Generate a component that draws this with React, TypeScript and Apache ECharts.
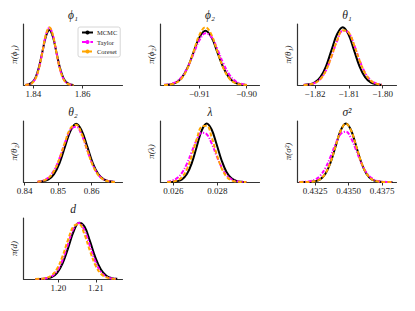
import React, { useEffect, useRef } from "react";
import * as echarts from "echarts";

// ---------- data (densities scaled to each panel's axis height) ----------
const seriesNames = ["MCMC", "Taylor", "Coreset"];

const phi1Grid = [1.8367, 1.8381, 1.8395, 1.8409, 1.8423, 1.8437, 1.8451, 1.8465, 1.8479, 1.8493, 1.8507, 1.8521, 1.8535, 1.8549, 1.8563];
const phi1Mcmc = [0.002, 0.01, 0.04, 0.122, 0.293, 0.547, 0.796, 0.902, 0.796, 0.547, 0.293, 0.122, 0.04, 0.01, 0.002];
const phi1Taylor = [0.002, 0.008, 0.033, 0.108, 0.278, 0.545, 0.82, 0.94, 0.82, 0.545, 0.278, 0.108, 0.033, 0.008, 0.002];
const phi1Coreset = [0.001, 0.007, 0.03, 0.105, 0.275, 0.546, 0.825, 0.946, 0.825, 0.546, 0.275, 0.105, 0.03, 0.007, 0.001];

const phi2Grid = [-0.91745, -0.9162, -0.91495, -0.9137, -0.91245, -0.9112, -0.90995, -0.9087, -0.90745, -0.9062, -0.90495, -0.9037, -0.90245, -0.9012, -0.89995];
const phi2Mcmc = [0.002, 0.01, 0.039, 0.12, 0.289, 0.54, 0.785, 0.89, 0.785, 0.54, 0.289, 0.12, 0.039, 0.01, 0.002];
const phi2Taylor = [0.003, 0.015, 0.049, 0.133, 0.292, 0.516, 0.736, 0.848, 0.788, 0.591, 0.358, 0.175, 0.069, 0.022, 0.006];
const phi2Coreset = [0.001, 0.008, 0.033, 0.11, 0.281, 0.551, 0.826, 0.946, 0.826, 0.551, 0.281, 0.11, 0.033, 0.008, 0.001];

const theta1Grid = [-1.82335, -1.8217, -1.82005, -1.8184, -1.81675, -1.8151, -1.81345, -1.8118, -1.81015, -1.8085, -1.80685, -1.8052, -1.80355, -1.8019, -1.80025];
const theta1Mcmc = [0.002, 0.011, 0.042, 0.128, 0.307, 0.577, 0.835, 0.946, 0.835, 0.577, 0.307, 0.128, 0.042, 0.011, 0.002];
const theta1Taylor = [0.003, 0.01, 0.034, 0.1, 0.24, 0.47, 0.725, 0.888, 0.865, 0.668, 0.41, 0.2, 0.08, 0.026, 0.007];
const theta1Coreset = [0.002, 0.008, 0.031, 0.097, 0.24, 0.472, 0.732, 0.896, 0.868, 0.664, 0.402, 0.192, 0.073, 0.022, 0.005];

const theta2Grid = [0.84385, 0.8455, 0.84715, 0.8488, 0.85045, 0.8521, 0.85375, 0.8554, 0.85705, 0.8587, 0.86035, 0.862, 0.86365, 0.8653, 0.86695];
const theta2Mcmc = [0.002, 0.011, 0.042, 0.129, 0.31, 0.583, 0.843, 0.956, 0.843, 0.583, 0.31, 0.129, 0.042, 0.011, 0.002];
const theta2Taylor = [0.006, 0.024, 0.075, 0.19, 0.39, 0.65, 0.86, 0.905, 0.77, 0.52, 0.28, 0.12, 0.042, 0.013, 0.004];
const theta2Coreset = [0.004, 0.019, 0.066, 0.18, 0.386, 0.657, 0.883, 0.937, 0.787, 0.522, 0.274, 0.114, 0.037, 0.01, 0.002];

const lambdaGrid = [0.02572, 0.025945, 0.02617, 0.026395, 0.02662, 0.026845, 0.02707, 0.027295, 0.02752, 0.027745, 0.02797, 0.028195, 0.02842, 0.028645, 0.02887, 0.029095, 0.02932];
const lambdaMcmc = [0, 0.002, 0.011, 0.042, 0.13, 0.312, 0.583, 0.848, 0.961, 0.861, 0.619, 0.357, 0.165, 0.062, 0.018, 0.004, 0.001];
const lambdaTaylor = [0.006, 0.022, 0.063, 0.15, 0.299, 0.499, 0.694, 0.807, 0.783, 0.634, 0.429, 0.243, 0.115, 0.045, 0.015, 0.004, 0.001];
const lambdaCoreset = [0.001, 0.006, 0.024, 0.079, 0.208, 0.432, 0.706, 0.91, 0.922, 0.736, 0.462, 0.229, 0.089, 0.027, 0.007, 0.001, 0];

const sigmaGrid = [0.431335, 0.43172, 0.432105, 0.43249, 0.432875, 0.43326, 0.433645, 0.43403, 0.434415, 0.4348, 0.435185, 0.43557, 0.435955, 0.43634, 0.436725, 0.43711, 0.437495, 0.43788, 0.438265];
const sigmaMcmc = [0, 0, 0.002, 0.011, 0.042, 0.13, 0.312, 0.583, 0.848, 0.961, 0.848, 0.583, 0.312, 0.13, 0.042, 0.011, 0.002, 0, 0];
const sigmaTaylor = [0.001, 0.003, 0.012, 0.038, 0.101, 0.224, 0.411, 0.626, 0.789, 0.826, 0.716, 0.516, 0.307, 0.152, 0.063, 0.021, 0.006, 0.001, 0];
const sigmaCoreset = [0, 0, 0.002, 0.012, 0.045, 0.136, 0.319, 0.586, 0.845, 0.955, 0.845, 0.586, 0.319, 0.136, 0.045, 0.012, 0.002, 0, 0];

const dGrid = [1.1939, 1.19535, 1.1968, 1.19825, 1.1997, 1.20115, 1.2026, 1.20405, 1.2055, 1.20695, 1.2084, 1.20985, 1.2113, 1.21275, 1.2142, 1.21565];
const dMcmc = [0, 0.001, 0.008, 0.031, 0.102, 0.257, 0.506, 0.775, 0.924, 0.859, 0.621, 0.35, 0.154, 0.053, 0.014, 0.003];
const dTaylor = [0, 0.002, 0.011, 0.044, 0.133, 0.314, 0.577, 0.826, 0.919, 0.797, 0.539, 0.284, 0.116, 0.037, 0.009, 0.002];
const dCoreset = [0.001, 0.004, 0.017, 0.061, 0.172, 0.378, 0.647, 0.864, 0.898, 0.728, 0.459, 0.225, 0.086, 0.026, 0.006, 0.001];

// axis ranges and tick labels
const phi1Range = [1.83603, 1.87611];
const phi1Ticks = [1.84, 1.86];
const phi2Range = [-0.91819, -0.8973];
const phi2Ticks = [-0.91, -0.9];
const theta1Range = [-1.82517, -1.79592];
const theta1Ticks = [-1.82, -1.81, -1.8];
const theta2Range = [0.8397, 0.86922];
const theta2Ticks = [0.84, 0.85, 0.86];
const lambdaRange = [0.02542, 0.02992];
const lambdaTicks = [0.026, 0.028];
const sigmaRange = [0.43119, 0.43857];
const sigmaTicks = [0.4325, 0.435, 0.4375];
const dRange = [1.19077, 1.21703];
const dTicks = [1.2, 1.21];

const panelTitles = ["ϕ₁", "ϕ₂", "θ₁", "θ₂", "λ", "σ²", "d"];
const panelYLabels = ["π(ϕ₁)", "π(ϕ₂)", "π(θ₁)", "π(θ₂)", "π(λ)", "π(σ²)", "π(d)"];

// ---------- layout / style ----------
const COLORS = ["#000000", "#ff00ff", "#ffa500"];
const DASHES: any[] = ["solid", [4, 1.6, 1.2, 1.6], [4, 2]];
const SERIF = "'Liberation Serif', 'DejaVu Serif', serif";
const LEFTS = [23.5, 160.5, 297.5];
const TOPS = [24, 121, 218];
const W = 99;
const H = 61;
const AXIS_COLOR = "#333333";

const panels = [
  { grid: phi1Grid, ys: [phi1Mcmc, phi1Taylor, phi1Coreset], range: phi1Range, ticks: phi1Ticks, dec: 2 },
  { grid: phi2Grid, ys: [phi2Mcmc, phi2Taylor, phi2Coreset], range: phi2Range, ticks: phi2Ticks, dec: 2 },
  { grid: theta1Grid, ys: [theta1Mcmc, theta1Taylor, theta1Coreset], range: theta1Range, ticks: theta1Ticks, dec: 2 },
  { grid: theta2Grid, ys: [theta2Mcmc, theta2Taylor, theta2Coreset], range: theta2Range, ticks: theta2Ticks, dec: 2 },
  { grid: lambdaGrid, ys: [lambdaMcmc, lambdaTaylor, lambdaCoreset], range: lambdaRange, ticks: lambdaTicks, dec: 3 },
  { grid: sigmaGrid, ys: [sigmaMcmc, sigmaTaylor, sigmaCoreset], range: sigmaRange, ticks: sigmaTicks, dec: 4 },
  { grid: dGrid, ys: [dMcmc, dTaylor, dCoreset], range: dRange, ticks: dTicks, dec: 2 },
];

function buildOption() {
  const grids: any[] = [];
  const xAxes: any[] = [];
  const yAxes: any[] = [];
  const series: any[] = [];
  const graphics: any[] = [];

  panels.forEach((p, k) => {
    const col = k % 3;
    const row = Math.floor(k / 3);
    const left = LEFTS[col];
    const top = TOPS[row];
    grids.push({ left, top, width: W, height: H, containLabel: false, outerBoundsMode: "none" });
    xAxes.push({
      type: "value",
      gridIndex: k,
      min: p.range[0],
      max: p.range[1],
      splitLine: { show: false },
      axisLine: { show: true, onZero: false, lineStyle: { color: AXIS_COLOR, width: 1.2 } },
      axisTick: { show: true, length: 3.5, customValues: p.ticks, lineStyle: { color: AXIS_COLOR, width: 1 } },
      axisLabel: {
        customValues: p.ticks,
        margin: 4,
        fontFamily: SERIF,
        fontSize: 9,
        color: "#222",
        formatter: (v: number) => v.toFixed(p.dec).replace("-", "\u2212"),
      },
    });
    yAxes.push({
      type: "value",
      gridIndex: k,
      min: 0,
      max: 1,
      splitLine: { show: false },
      axisTick: { show: false },
      axisLabel: { show: false },
      axisLine: { show: true, lineStyle: { color: AXIS_COLOR, width: 1.2 } },
      name: panelYLabels[k],
      nameLocation: "middle",
      nameRotate: 90,
      nameGap: 5,
      nameTextStyle: { fontFamily: SERIF, fontSize: 9, fontStyle: "italic", color: "#222" },
    });
    p.ys.forEach((vals, s) => {
      series.push({
        type: "line",
        name: seriesNames[s],
        xAxisIndex: k,
        yAxisIndex: k,
        data: p.grid.map((x, i) => [x, vals[i]]),
        smooth: 0.4,
        symbol: "none",
        showSymbol: false,
        z: 2 + s,
        lineStyle: { color: COLORS[s], width: 2, type: DASHES[s] },
        itemStyle: { color: COLORS[s] },
      });
    });
    graphics.push({
      type: "text",
      x: left + W / 2,
      y: top - 9,
      style: {
        text: panelTitles[k],
        fill: "#222",
        font: `italic 11.5px ${SERIF}`,
        align: "center",
        verticalAlign: "middle",
      },
    });
  });

  return {
    animation: false,
    backgroundColor: "#ffffff",
    grid: grids,
    xAxis: xAxes,
    yAxis: yAxes,
    series,
    graphic: graphics,
    legend: {
      data: seriesNames,
      left: 78,
      top: 27,
      orient: "vertical",
      itemWidth: 11,
      itemHeight: 5,
      itemGap: 2.5,
      padding: [2, 3, 2, 3],
      borderColor: "#cccccc",
      borderWidth: 0.8,
      borderRadius: 2,
      backgroundColor: "#ffffff",
      selectedMode: false,
      textStyle: { fontFamily: SERIF, fontSize: 6.5, color: "#222", padding: [0, 0, 0, -1] },
    },
  };
}

export default function App() {
  const ref = useRef<HTMLDivElement>(null);
  useEffect(() => {
    if (!ref.current) return;
    const chart = echarts.init(ref.current, null, { renderer: "svg" });
    chart.setOption(buildOption() as any);
    return () => chart.dispose();
  }, []);
  return (
    <div
      ref={ref}
      style={{ position: "fixed", left: 0, top: 0, width: 415, height: 311, background: "#fff" }}
    />
  );
}
